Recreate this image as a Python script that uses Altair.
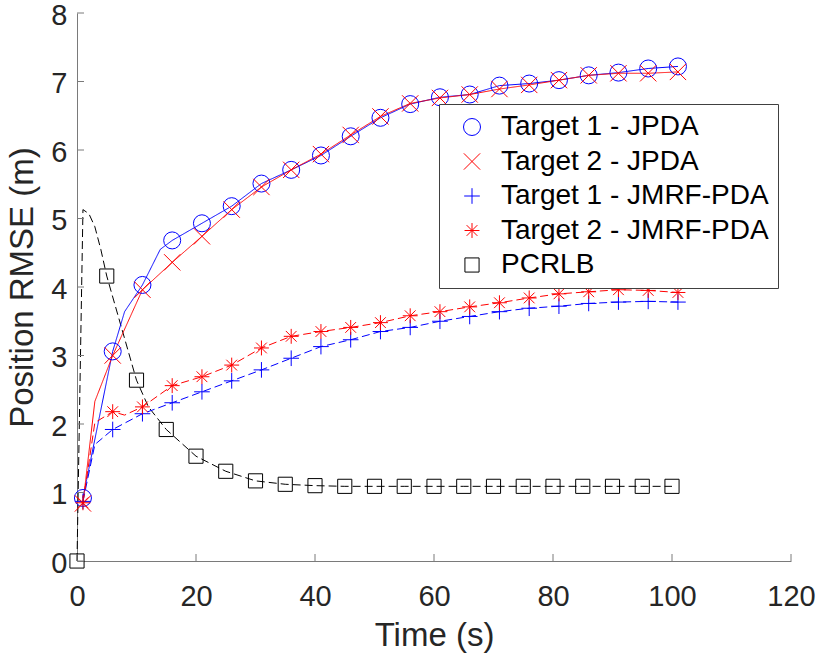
import altair as alt
import pandas as pd

# ---------------- data ----------------
series_names = ["Target 1 - JPDA", "Target 2 - JPDA", "Target 1 - JMRF-PDA",
                "Target 2 - JMRF-PDA", "PCRLB"]

t_markers = list(range(1, 102, 5))
t1_jpda = [0.92, 3.06, 4.03, 4.68, 4.93, 5.18, 5.51, 5.71, 5.92, 6.20, 6.47,
           6.67, 6.77, 6.81, 6.94, 6.97, 7.02, 7.09, 7.13, 7.19, 7.22]
t2_jpda = [0.84, 3.00, 3.96, 4.36, 4.74, 5.13, 5.46, 5.71, 5.94, 6.22, 6.49,
           6.68, 6.76, 6.81, 6.89, 6.95, 7.02, 7.09, 7.12, 7.12, 7.14]
t1_jmrf = [0.87, 1.92, 2.15, 2.31, 2.47, 2.63, 2.79, 2.96, 3.13, 3.23, 3.35,
           3.41, 3.50, 3.57, 3.64, 3.69, 3.72, 3.76, 3.78, 3.79, 3.78]
t2_jmrf = [0.85, 2.18, 2.25, 2.56, 2.69, 2.86, 3.11, 3.28, 3.35, 3.41, 3.48,
           3.58, 3.64, 3.71, 3.77, 3.84, 3.90, 3.93, 3.96, 3.95, 3.92]

pcrlb_t = list(range(0, 101, 5))
pcrlb = [0.0, 4.16, 2.64, 1.92, 1.53, 1.31, 1.17, 1.12, 1.10, 1.09, 1.09,
         1.09, 1.09, 1.09, 1.09, 1.09, 1.09, 1.09, 1.09, 1.09, 1.09]

# additional line vertices between markers (curve kinks)
extra_t1_jpda_t = [8, 14]
extra_t1_jpda_v = [3.64, 4.55]
extra_t2_jpda_t = [3]
extra_t2_jpda_v = [2.33]
extra_t1_jmrf_t = [3]
extra_t1_jmrf_v = [1.70]
extra_t2_jmrf_t = [3, 8]
extra_t2_jmrf_v = [2.02, 2.13]
extra_pcrlb_t = [1, 2, 3, 4, 12]
extra_pcrlb_v = [5.13, 5.07, 4.88, 4.55, 2.25]

x_ticks = [0, 20, 40, 60, 80, 100, 120]
y_ticks = [0, 1, 2, 3, 4, 5, 6, 7, 8]

# ---------------- tables ----------------
marker_rows = []
for name, ts, vs in [(series_names[0], t_markers, t1_jpda),
                     (series_names[1], t_markers, t2_jpda),
                     (series_names[2], t_markers, t1_jmrf),
                     (series_names[3], t_markers, t2_jmrf),
                     (series_names[4], pcrlb_t, pcrlb)]:
    for t, v in zip(ts, vs):
        marker_rows.append({"t": t, "v": v, "series": name})
markers_df = pd.DataFrame(marker_rows)

line_rows = list(marker_rows)
for name, ts, vs in [(series_names[0], extra_t1_jpda_t, extra_t1_jpda_v),
                     (series_names[1], extra_t2_jpda_t, extra_t2_jpda_v),
                     (series_names[2], extra_t1_jmrf_t, extra_t1_jmrf_v),
                     (series_names[3], extra_t2_jmrf_t, extra_t2_jmrf_v),
                     (series_names[4], extra_pcrlb_t, extra_pcrlb_v)]:
    for t, v in zip(ts, vs):
        line_rows.append({"t": t, "v": v, "series": name})
lines_df = pd.DataFrame(line_rows).sort_values(["series", "t"])

# ---------------- styling ----------------
FONT = "Liberation Sans"
AXIS_GRAY = "#7a7a7a"
TEXT_DARK = "#262626"
W, H = 714, 548

colors = ["#0000ff", "#ff0000", "#0000ff", "#ff0000", "#000000"]
dashes = [[1, 0], [1, 0], [8, 4], [8, 4], [8, 4]]
x_path = "M-1,-1L1,1M-1,1L1,-1"
plus_path = "M-1,0L1,0M0,-1L0,1"
star_path = "M-1,0L1,0M0,-1L0,1M-0.72,-0.72L0.72,0.72M-0.72,0.72L0.72,-0.72"
shapes = ["circle", x_path, plus_path, star_path, "square"]
sizes = [289, 200, 324, 324, 144]

x_scale = alt.Scale(domain=[0, 120], nice=False, zero=False)
y_scale = alt.Scale(domain=[0, 8], nice=False, zero=False)
color_scale = alt.Scale(domain=series_names, range=colors)

x_axis = alt.Axis(values=x_ticks, format="d", ticks=False, grid=False,
                  domainColor=AXIS_GRAY, domainWidth=1,
                  labelFont=FONT, labelFontSize=29, labelColor=TEXT_DARK,
                  labelPadding=21, labelFlush=False,
                  title="Time (s)", titleFont=FONT, titleFontSize=33,
                  titleFontWeight="normal", titleColor=TEXT_DARK,
                  titleX=357, titleY=84, titleBaseline="alphabetic",
                  titleAlign="center")
y_axis = alt.Axis(values=y_ticks, format="d", ticks=False, grid=False,
                  domainColor=AXIS_GRAY, domainWidth=1,
                  labelFont=FONT, labelFontSize=29, labelColor=TEXT_DARK,
                  labelPadding=10, labelFlush=False, labelOffset=2,
                  title="Position RMSE (m)", titleFont=FONT, titleFontSize=33,
                  titleFontWeight="normal", titleColor=TEXT_DARK,
                  titleX=-38, titleY=274, titleAngle=270,
                  titleBaseline="bottom", titleAlign="center")

lines = alt.Chart(lines_df).mark_line(strokeWidth=1).encode(
    x=alt.X("t:Q", scale=x_scale, axis=x_axis),
    y=alt.Y("v:Q", scale=y_scale, axis=y_axis),
    color=alt.Color("series:N", scale=color_scale, legend=None),
    strokeDash=alt.StrokeDash("series:N",
                              scale=alt.Scale(domain=series_names, range=dashes),
                              legend=None),
    order="t:Q",
)

legend = alt.Legend(title=None, orient="none", legendX=362, legendY=91,
                    padding=9, symbolOffset=10, labelOffset=15,
                    labelFont=FONT, labelFontSize=28, labelColor="#000000",
                    labelLimit=500, rowPadding=6.5, strokeColor="#404040",
                    fillColor="#ffffff", symbolStrokeWidth=1)

points = alt.Chart(markers_df).mark_point(filled=False, strokeWidth=1, opacity=1).encode(
    x=alt.X("t:Q", scale=x_scale),
    y=alt.Y("v:Q", scale=y_scale),
    color=alt.Color("series:N", scale=color_scale, legend=legend,
                    sort=series_names),
    shape=alt.Shape("series:N", scale=alt.Scale(domain=series_names, range=shapes),
                    legend=legend, sort=series_names),
    size=alt.Size("series:N", scale=alt.Scale(domain=series_names, range=sizes),
                  legend=legend, sort=series_names),
)

xtick_rules = alt.Chart(pd.DataFrame({"t": x_ticks})).mark_rule(
    color=AXIS_GRAY, strokeWidth=1).encode(
    x=alt.X("t:Q", scale=x_scale),
    y=alt.value(H), y2=alt.value(H - 7))

ytick_rules = alt.Chart(pd.DataFrame({"v": y_ticks})).mark_rule(
    color=AXIS_GRAY, strokeWidth=1).encode(
    y=alt.Y("v:Q", scale=y_scale),
    x=alt.value(0), x2=alt.value(7))

chart = alt.layer(lines, points, xtick_rules, ytick_rules).resolve_legend(
    color="independent", strokeDash="independent",
    shape="independent", size="independent",
).properties(
    width=W, height=H,
    autosize=alt.AutoSizeParams(type="none"),
    padding={"left": 77, "top": 13, "right": 28, "bottom": 94},
    background="#ffffff",
).configure_view(stroke=None)

chart.save("out.html", embed_options={"renderer": "svg", "actions": False})
